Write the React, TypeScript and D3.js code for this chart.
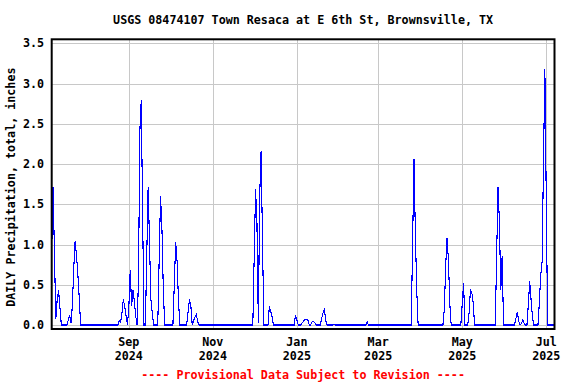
import React from "react";
import * as d3 from "d3";

// ---- Data ----
const startDate = "2024-07-07";
const endDate = "2025-07-07";

const rainDates = [
  "2024-07-07", "2024-07-08", "2024-07-09", "2024-07-10", "2024-07-11", "2024-07-12", "2024-07-13",
  "2024-07-19", "2024-07-20", "2024-07-21", "2024-07-22", "2024-07-23", "2024-07-24", "2024-07-25", "2024-07-26", "2024-07-27",
  "2024-08-25", "2024-08-26", "2024-08-27", "2024-08-28", "2024-08-29", "2024-08-30",
  "2024-09-01", "2024-09-02", "2024-09-03", "2024-09-04", "2024-09-05", "2024-09-06",
  "2024-09-08", "2024-09-09", "2024-09-10", "2024-09-11",
  "2024-09-14", "2024-09-15", "2024-09-16", "2024-09-17", "2024-09-18",
  "2024-09-23", "2024-09-24", "2024-09-25", "2024-09-26",
  "2024-10-04", "2024-10-05", "2024-10-06", "2024-10-07",
  "2024-10-14", "2024-10-15", "2024-10-16", "2024-10-18", "2024-10-19", "2024-10-20", "2024-10-21",
  "2024-12-01", "2024-12-02", "2024-12-03", "2024-12-04", "2024-12-05", "2024-12-06", "2024-12-07",
  "2024-12-12", "2024-12-13", "2024-12-14",
  "2024-12-31", "2025-01-01",
  "2025-01-05", "2025-01-06", "2025-01-07", "2025-01-08", "2025-01-09",
  "2025-01-12", "2025-01-13", "2025-01-14",
  "2025-01-19", "2025-01-20", "2025-01-21", "2025-01-22",
  "2025-01-28",
  "2025-02-21",
  "2025-03-26", "2025-03-27", "2025-03-28", "2025-03-29",
  "2025-04-18", "2025-04-19", "2025-04-20", "2025-04-21", "2025-04-22",
  "2025-05-01", "2025-05-02",
  "2025-05-06", "2025-05-07", "2025-05-08", "2025-05-09",
  "2025-05-26", "2025-05-27", "2025-05-28", "2025-05-29", "2025-05-30",
  "2025-06-09", "2025-06-10", "2025-06-11", "2025-06-13", "2025-06-14", "2025-06-15",
  "2025-06-18", "2025-06-19", "2025-06-20", "2025-06-21",
  "2025-06-26", "2025-06-27", "2025-06-28", "2025-06-29", "2025-06-30", "2025-07-01",
];

const rainValues = [
  0.9, 1.72, 0.88, 0.08, 0.32, 0.43, 0.21,
  0.06, 0.12, 0.03, 0.24, 0.71, 1.04, 0.86, 0.63, 0.33,
  0.05, 0.03, 0.15, 0.32, 0.23, 0.11,
  0.22, 0.68, 0.24, 0.43, 0.3, 0.11,
  0.56, 2.41, 2.79, 1.39,
  0.86, 1.71, 1.04, 0.32, 0.15,
  0.8, 1.6, 1.22, 0.46,
  0.51, 1.03, 0.79, 0.32,
  0.16, 0.32, 0.24, 0.05, 0.1, 0.13, 0.04,
  0.86, 1.69, 1.27, 0.02, 1.61, 2.16, 1.08,
  0.23, 0.17, 0.1,
  0.12, 0.06,
  0.03, 0.05, 0.07, 0.07, 0.06,
  0.04, 0.04, 0.03,
  0.08, 0.15, 0.19, 0.05,
  0.01,
  0.04,
  1.03, 2.06, 1.14, 0.43,
  0.19, 0.73, 1.08, 0.81, 0.26,
  0.26, 0.52,
  0.15, 0.44, 0.4, 0.27,
  0.86, 1.72, 1.28, 0.43, 0.86,
  0.08, 0.16, 0.05, 0.02, 0.06, 0.02,
  0.26, 0.54, 0.31, 0.1,
  0.28, 0.62, 0.79, 2.02, 3.18, 1.59,
];

const yTicks = [0, 0.5, 1.0, 1.5, 2.0, 2.5, 3.0, 3.5];
const xTickDates = ["2024-09-01", "2024-11-01", "2025-01-01", "2025-03-01", "2025-05-01", "2025-07-01"];
const xTickMonths = ["Sep", "Nov", "Jan", "Mar", "May", "Jul"];
const xTickYears = ["2024", "2024", "2025", "2025", "2025", "2025"];

const titleText = "USGS 08474107 Town Resaca at E 6th St, Brownsville, TX";
const yLabelText = "DAILY Precipitation, total, inches";
const footerText = "---- Provisional Data Subject to Revision ----";

// ---- Layout ----
const W = 576;
const H = 384;
const plotLeft = 51.7;
const plotRight = 554.5;
const plotTop = 39.3;
const plotBottom = 329;
const FONT = "'DejaVu Sans Mono', monospace";

export default function App() {
  const parse = d3.utcParse("%Y-%m-%d");
  const start = parse(startDate) as Date;
  const end = parse(endDate) as Date;

  const valueByDay = new Map<number, number>();
  rainDates.forEach((s, i) => {
    valueByDay.set((parse(s) as Date).getTime(), rainValues[i]);
  });
  const days = d3.utcDay.range(start, d3.utcDay.offset(end, 1));
  const series = days.map((d) => ({ date: d, value: valueByDay.get(d.getTime()) ?? 0 }));

  const x = d3.scaleUtc().domain([start, end]).range([plotLeft, plotRight]);
  const y = d3.scaleLinear().domain([-0.05, 3.55]).range([plotBottom, plotTop]);

  const line = d3
    .line<{ date: Date; value: number }>()
    .x((d) => x(d.date))
    .y((d) => y(d.value));

  const cx = (plotLeft + plotRight) / 2;

  return (
    <svg
      width={W}
      height={H}
      style={{ position: "absolute", left: 0, top: 0, background: "#ffffff" }}
      fontFamily={FONT}
      fontWeight="bold"
    >
      <rect x={0} y={0} width={W} height={H} fill="#ffffff" />
      <defs>
        <clipPath id="plotclip">
          <rect x={plotLeft} y={plotTop} width={plotRight - plotLeft} height={plotBottom - plotTop} />
        </clipPath>
      </defs>
      {/* grid */}
      {yTicks.map((t) => (
        <line
          key={"gy" + t}
          x1={plotLeft}
          x2={plotRight}
          y1={Math.round(y(t)) + 0.5}
          y2={Math.round(y(t)) + 0.5}
          stroke="#c8c8c8"
          strokeWidth={1}
        />
      ))}
      {xTickDates.map((s) => {
        const xx = Math.round(x(parse(s) as Date)) + 0.5;
        return (
          <line key={"gx" + s} x1={xx} x2={xx} y1={plotTop} y2={plotBottom} stroke="#c8c8c8" strokeWidth={1} />
        );
      })}
      {/* data */}
      <path
        d={line(series) ?? ""}
        fill="none"
        stroke="#0000ff"
        strokeWidth={1.1}
        shapeRendering="crispEdges"
        clipPath="url(#plotclip)"
      />
      {/* frame */}
      <rect
        x={plotLeft}
        y={plotTop}
        width={plotRight - plotLeft}
        height={plotBottom - plotTop}
        fill="none"
        stroke="#000000"
        strokeWidth={2}
      />
      {/* title */}
      <text x={cx} y={24} textAnchor="middle" fontSize={11.7} fill="#000">
        {titleText}
      </text>
      {/* y tick labels */}
      {yTicks.map((t) => (
        <text key={"ty" + t} x={44} y={y(t) + 4} textAnchor="end" fontSize={11.7} fill="#000">
          {t.toFixed(1)}
        </text>
      ))}
      {/* x tick labels */}
      {xTickDates.map((s, i) => {
        const xx = x(parse(s) as Date);
        return (
          <g key={"tx" + s}>
            <text x={xx} y={346} textAnchor="middle" fontSize={11.7} fill="#000">
              {xTickMonths[i]}
            </text>
            <text x={xx} y={360} textAnchor="middle" fontSize={11.7} fill="#000">
              {xTickYears[i]}
            </text>
          </g>
        );
      })}
      {/* y label */}
      <text
        transform={`translate(15, ${(plotTop + plotBottom) / 2 + 3}) rotate(-90)`}
        textAnchor="middle"
        fontSize={11.7}
        fill="#000"
      >
        {yLabelText}
      </text>
      {/* footer */}
      <text x={cx} y={379} textAnchor="middle" fontSize={11.7} fill="#ff0000">
        {footerText}
      </text>
    </svg>
  );
}
